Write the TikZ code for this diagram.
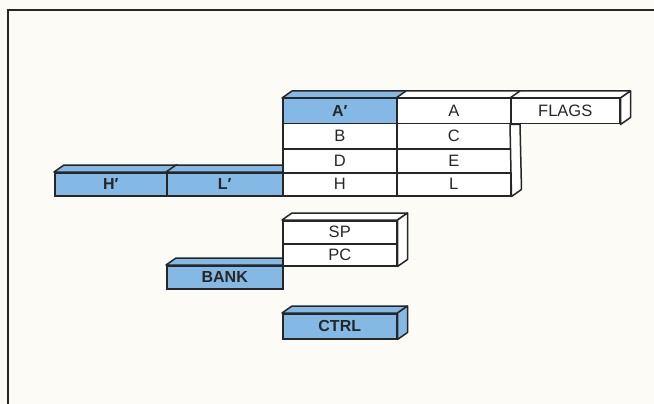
\documentclass[tikz,border=0pt]{standalone}
\usepackage{fontspec}
\setmainfont{Liberation Sans}
\definecolor{regblue}{HTML}{84B9E6}
\definecolor{ink}{HTML}{262626}
\definecolor{paper}{HTML}{FDFBF6}
\tikzset{
  cell/.style={draw=ink, line width=1.5pt, anchor=north west, inner sep=0pt,
    font=\fontsize{16.5}{18}\selectfont, text=ink},
  wcell/.style={cell, fill=white},
  bcell/.style={cell, fill=regblue, font=\fontsize{16}{18}\selectfont\bfseries},
  face/.style={draw=ink, line width=1.5pt, line join=round},
  wface/.style={face, fill=white},
  bface/.style={face, fill=regblue},
  frameline/.style={draw=ink, line width=1.8pt}
}
\newcommand{\topface}[2]{\filldraw[#1] (#2.north west) -- ([shift={(10,-7)}]#2.north west) -- ([shift={(10,-7)}]#2.north east) -- (#2.north east) -- cycle;}
\newcommand{\sideface}[2]{\filldraw[#1] (#2.north east) -- ([shift={(10,-7)}]#2.north east) -- ([shift={(10,-7)}]#2.south east) -- (#2.south east) -- cycle;}
\begin{document}
\begin{tikzpicture}[x=1pt,y=-1pt]
\useasboundingbox[fill=paper] (0,0) rectangle (654,404);
\draw[frameline] (8,404) -- (8,10) -- (654,10);

% back nodes (H', L', BANK) - front faces
\node[bcell, minimum width=112pt, minimum height=23pt] (Hp) at (54,172) {H′};
\node[bcell, minimum width=116pt, minimum height=23pt] (Lp) at (166,172) {L′};
\node[bcell, minimum width=116pt, minimum height=23pt] (BANK) at (166,265) {BANK};
\topface{bface}{Hp}
\topface{bface}{Lp}
\topface{bface}{BANK}

% main register block
\node[bcell, minimum width=114pt, minimum height=25pt] (Ap) at (282,98) {A′};
\node[wcell, minimum width=114pt, minimum height=25pt] (A) at (396,98) {A};
\node[wcell, minimum width=109pt, minimum height=25pt] (FLAGS) at (510,98) {FLAGS};
\node[wcell, minimum width=114pt, minimum height=25pt] (B) at (282,123) {B};
\node[wcell, minimum width=114pt, minimum height=25pt] (C) at (396,123) {C};
\node[wcell, minimum width=114pt, minimum height=24pt] (D) at (282,148) {D};
\node[wcell, minimum width=114pt, minimum height=24pt] (E) at (396,148) {E};
\node[wcell, minimum width=114pt, minimum height=23pt] (H) at (282,172) {H};
\node[wcell, minimum width=114pt, minimum height=23pt] (L) at (396,172) {L};
\topface{bface}{Ap}
\topface{wface}{A}
\topface{wface}{FLAGS}
\sideface{wface}{FLAGS}
\filldraw[wface] (FLAGS.south west) -- ([shift={(10,0)}]FLAGS.south west) -- ([shift={(10,-7)}]L.south east) -- (L.south east) -- cycle;

% SP / PC
\node[wcell, minimum width=114pt, minimum height=23pt] (SP) at (282,220) {SP};
\node[wcell, minimum width=114pt, minimum height=22pt] (PC) at (282,243) {PC};
\topface{wface}{SP}
\filldraw[wface] (SP.north east) -- ([shift={(10,-7)}]SP.north east) -- ([shift={(10,-7)}]PC.south east) -- (PC.south east) -- cycle;

% CTRL
\node[bcell, minimum width=114pt, minimum height=25pt] (CTRL) at (282,313) {CTRL};
\topface{bface}{CTRL}
\sideface{bface}{CTRL}
\end{tikzpicture}
\end{document}
